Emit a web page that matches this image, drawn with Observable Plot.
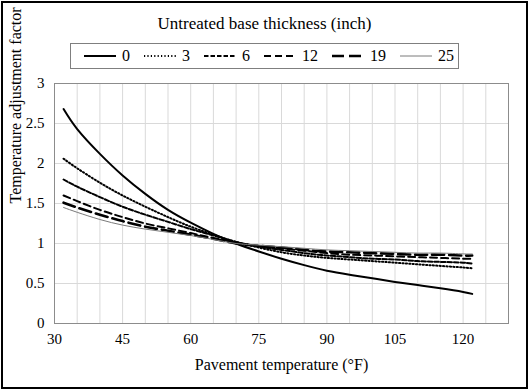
<!DOCTYPE html>
<html>
<head>
<meta charset="utf-8">
<script src="https://cdn.jsdelivr.net/npm/d3@7"></script>
<script src="https://cdn.jsdelivr.net/npm/@observablehq/plot@0.6"></script>
<style>
  html, body { margin: 0; padding: 0; background: #fff; }
  #wrap { position: relative; width: 529px; height: 390px; overflow: hidden; font-family: "Liberation Serif", "Times New Roman", Tinos, "DejaVu Serif", serif; color: #000; }
  #border { position: absolute; left: 1px; top: 1px; width: 527px; height: 388px; box-sizing: border-box; border: 2px solid #000; pointer-events: none; }
  #title { position: absolute; left: 0; top: 13px; width: 529px; height: 22px; line-height: 22px; text-align: center; font-size: 17px; }
  #legend { position: absolute; left: 70px; top: 43px; width: 389px; height: 26px; box-sizing: border-box; border: 1px solid #7f7f7f; display: flex; align-items: center; padding-left: 13px; font-size: 16px; }
  .item { display: flex; align-items: center; margin-right: 14px; }
  .item span { margin-left: 6px; }
  #chart { position: absolute; left: 0; top: 72px; }
</style>
</head>
<body>
<div id="wrap">
  <div id="title">Untreated base thickness (inch)</div>
  <div id="legend"></div>
  <div id="chart"></div>
  <div id="border"></div>
</div>
<script>
// Pavement temperature (°F)
const temps = [32, 35, 40, 45, 50, 55, 60, 65, 70, 75, 80, 85, 90, 95, 100, 105, 110, 115, 120, 122];
// Temperature adjustment factor per untreated base thickness (inch)
const thick0  = [2.68, 2.43, 2.12, 1.85, 1.62, 1.42, 1.26, 1.12, 1.00, 0.90, 0.81, 0.73, 0.66, 0.61, 0.565, 0.52, 0.48, 0.44, 0.395, 0.37];
const thick3  = [2.06, 1.94, 1.76, 1.60, 1.46, 1.33, 1.21, 1.11, 1.02, 0.95, 0.89, 0.85, 0.82, 0.80, 0.78, 0.76, 0.74, 0.72, 0.70, 0.69];
const thick6  = [1.80, 1.71, 1.58, 1.46, 1.36, 1.27, 1.18, 1.10, 1.02, 0.96, 0.92, 0.88, 0.85, 0.83, 0.81, 0.80, 0.78, 0.77, 0.76, 0.75];
const thick12 = [1.60, 1.53, 1.42, 1.33, 1.25, 1.19, 1.13, 1.07, 1.01, 0.97, 0.94, 0.91, 0.88, 0.86, 0.85, 0.84, 0.83, 0.82, 0.81, 0.81];
const thick19 = [1.51, 1.45, 1.36, 1.28, 1.21, 1.16, 1.11, 1.06, 1.00, 0.97, 0.95, 0.92, 0.90, 0.89, 0.88, 0.87, 0.86, 0.86, 0.85, 0.85];
const thick25 = [1.45, 1.39, 1.30, 1.23, 1.18, 1.14, 1.10, 1.05, 1.00, 0.98, 0.96, 0.94, 0.92, 0.91, 0.90, 0.89, 0.88, 0.88, 0.87, 0.87];

const seriesNames = ["0", "3", "6", "12", "19", "25"];
const seriesValues = [thick0, thick3, thick6, thick12, thick19, thick25];

const xTicks = [30, 45, 60, 75, 90, 105, 120];
const xGrid = [30, 35, 40, 45, 50, 55, 60, 65, 70, 75, 80, 85, 90, 95, 100, 105, 110, 115, 120, 125, 130];
const yTicks = [0, 0.5, 1, 1.5, 2, 2.5, 3];

const serif = "'Liberation Serif', 'Times New Roman', Tinos, 'DejaVu Serif', serif";

// styles
const styles = {
  "0":  {stroke: "#000", width: 2, dash: null},
  "3":  {stroke: "#000", width: 2, dash: "1.2 2.2"},
  "6":  {stroke: "#000", width: 2, dash: "4.5 2"},
  "12": {stroke: "#000", width: 2, dash: "7 4"},
  "19": {stroke: "#000", width: 2.6, dash: "12 5"},
  "25": {stroke: "#7a7a7a", width: 1, dash: null}
};

const rows = [];
seriesNames.forEach((name, i) => {
  temps.forEach((t, j) => rows.push({series: name, temp: t, factor: seriesValues[i][j]}));
});

const lineMarks = seriesNames.map(name => Plot.line(rows.filter(r => r.series === name), {
  x: "temp", y: "factor",
  stroke: styles[name].stroke,
  strokeWidth: styles[name].width,
  strokeDasharray: styles[name].dash,
  curve: "natural"
}));

const chart = Plot.plot({
  width: 529,
  height: 316,
  marginTop: 11,
  marginLeft: 54,
  marginRight: 21,
  marginBottom: 65,
  style: {fontFamily: serif, fontSize: "15px", color: "#000", background: "transparent", overflow: "visible"},
  x: {domain: [30, 130], ticks: xTicks, tickSize: 0, tickPadding: 10, label: null},
  y: {domain: [0, 3], ticks: yTicks, tickSize: 0, tickPadding: 10, label: null, tickFormat: d => String(d)},
  marks: [
    Plot.gridX(xGrid, {stroke: "#d9d9d9", strokeOpacity: 1}),
    Plot.gridY(yTicks, {stroke: "#d9d9d9", strokeOpacity: 1}),
    Plot.frame({stroke: "#8c8c8c"}),
    ...lineMarks,
    Plot.text(["Pavement temperature (°F)"], {frameAnchor: "bottom", dy: 41, fontSize: 16, lineAnchor: "middle"}),
    Plot.text(["Temperature adjustment factor"], {frameAnchor: "left", dx: -39, rotate: -90, fontSize: 16, lineAnchor: "middle"})
  ]
});
document.getElementById("chart").appendChild(chart);

// legend
const legend = document.getElementById("legend");
seriesNames.forEach(name => {
  const s = styles[name];
  const item = document.createElement("div");
  item.className = "item";
  const ns = "http://www.w3.org/2000/svg";
  const svg = document.createElementNS(ns, "svg");
  svg.setAttribute("width", 32);
  svg.setAttribute("height", 10);
  const ln = document.createElementNS(ns, "line");
  ln.setAttribute("x1", 0); ln.setAttribute("x2", 32);
  ln.setAttribute("y1", 5); ln.setAttribute("y2", 5);
  ln.setAttribute("stroke", s.stroke);
  ln.setAttribute("stroke-width", s.width);
  if (s.dash) ln.setAttribute("stroke-dasharray", s.dash);
  svg.appendChild(ln);
  const label = document.createElement("span");
  label.textContent = name;
  item.appendChild(svg);
  item.appendChild(label);
  legend.appendChild(item);
});
</script>
</body>
</html>
